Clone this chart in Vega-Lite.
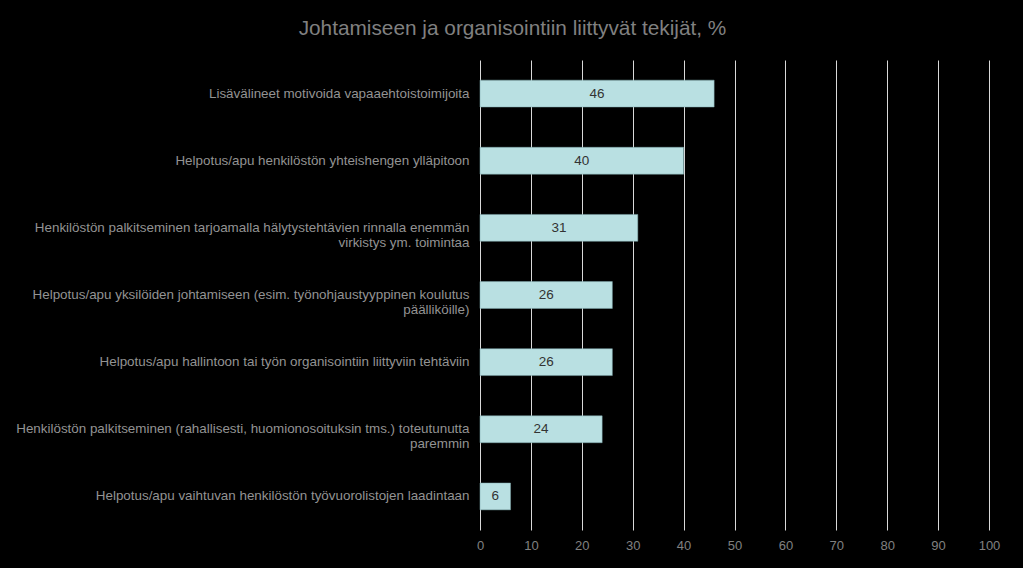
{
  "$schema": "https://vega.github.io/schema/vega-lite/v6.json",
  "width": 509,
  "height": 470,
  "autosize": {"type": "none"},
  "padding": {"left": 480, "top": 60, "right": 34, "bottom": 38},
  "background": "#000000",
  "title": {
    "text": "Johtamiseen ja organisointiin liittyvät tekijät, %",
    "font": "Liberation Sans",
    "fontSize": 20.8,
    "fontWeight": "normal",
    "color": "#808080",
    "anchor": "middle",
    "frame": "group",
    "dx": -222,
    "offset": 20
  },
  "config": {
    "view": {"stroke": null},
    "font": "Liberation Sans"
  },
  "data": {
    "values": [
      {"key": "a", "value": 46},
      {"key": "b", "value": 40},
      {"key": "c", "value": 31},
      {"key": "d", "value": 26},
      {"key": "e", "value": 26},
      {"key": "f", "value": 24},
      {"key": "g", "value": 6}
    ]
  },
  "encoding": {
    "y": {
      "field": "key",
      "type": "nominal",
      "sort": null,
      "scale": {"paddingInner": 0.6, "paddingOuter": 0.3},
      "axis": {
        "title": null,
        "domain": false,
        "ticks": false,
        "labelPadding": 11,
        "labelLimit": 500,
        "labelFontSize": 13.4,
        "labelColor": "#939393",
        "labelLineHeight": 15,
        "labelExpr": "datum.value == 'a' ? 'Lisävälineet motivoida vapaaehtoistoimijoita' : datum.value == 'b' ? 'Helpotus/apu henkilöstön yhteishengen ylläpitoon' : datum.value == 'c' ? ['Henkilöstön palkitseminen tarjoamalla hälytystehtävien rinnalla enemmän', 'virkistys ym. toimintaa'] : datum.value == 'd' ? ['Helpotus/apu yksilöiden johtamiseen (esim. työnohjaustyyppinen koulutus', 'päälliköille)'] : datum.value == 'e' ? 'Helpotus/apu hallintoon tai työn organisointiin liittyviin tehtäviin' : datum.value == 'f' ? ['Henkilöstön palkitseminen (rahallisesti, huomionosoituksin tms.) toteutunutta', 'paremmin'] : 'Helpotus/apu vaihtuvan henkilöstön työvuorolistojen laadintaan'"
      }
    }
  },
  "layer": [
    {
      "mark": {"type": "bar", "fill": "#b9e0e2", "stroke": "#7fa9ad", "strokeWidth": 0.5},
      "encoding": {
        "x": {
          "field": "value",
          "type": "quantitative",
          "scale": {"domain": [0, 100], "nice": false},
          "axis": {
            "title": null,
            "values": [0, 10, 20, 30, 40, 50, 60, 70, 80, 90, 100],
            "grid": true,
            "gridColor": "#d9d9d9",
            "gridWidth": 1,
            "domain": false,
            "ticks": false,
            "labelFlush": false,
            "labelPadding": 9,
            "labelFontSize": 13,
            "labelColor": "#808080"
          }
        }
      }
    },
    {
      "mark": {"type": "text", "color": "#333333", "fontSize": 13.5, "align": "center", "baseline": "middle"},
      "encoding": {
        "x": {"field": "value", "type": "quantitative", "scale": {"domain": [0, 200], "nice": false}, "axis": null},
        "text": {"field": "value", "type": "quantitative"}
      }
    }
  ],
  "resolve": {"scale": {"x": "independent"}}
}
